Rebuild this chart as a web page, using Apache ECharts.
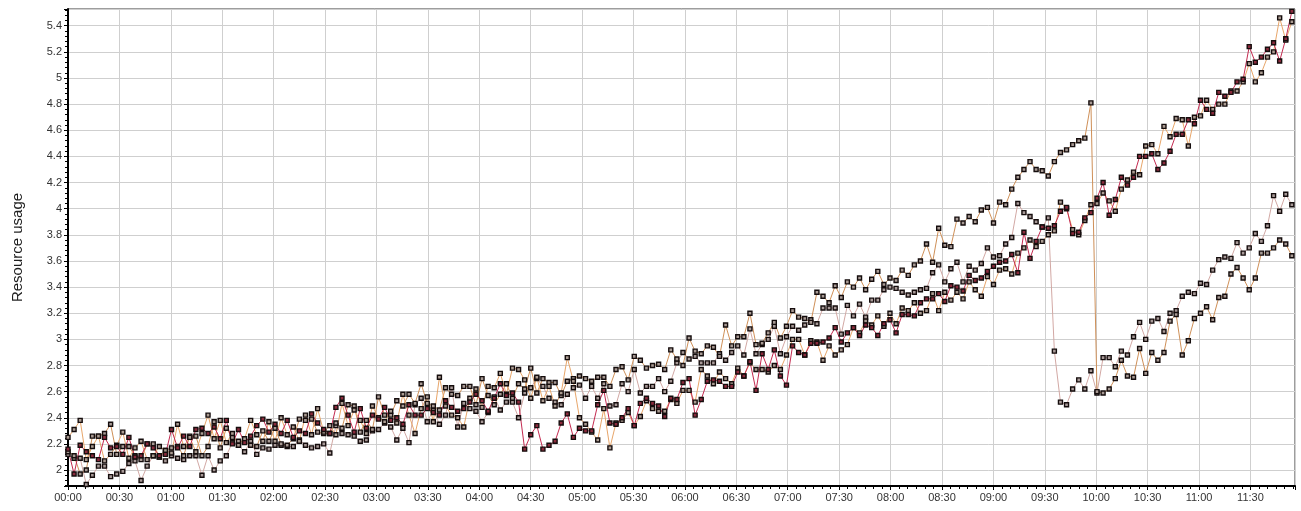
<!DOCTYPE html>
<html>
<head>
<meta charset="utf-8">
<script src="https://cdn.jsdelivr.net/npm/echarts@6/dist/echarts.min.js"></script>
<style>
  html, body { margin: 0; padding: 0; background: #fff; }
  #chart { width: 1301px; height: 511px; }
</style>
</head>
<body>
<div id="chart"></div>
<script>
// Samples are taken every 3.553 minutes, starting at 00:00.
const SAMPLE_STEP_MIN = 3.553;

// Axis ranges (minutes / usage units)
const X_MAX_MIN = 716;
const Y_MIN = 1.878;
const Y_MAX = 5.528;

// Resource usage per node (one value per sample)
const nodeA = [
  2.25, 2.31, 2.38, 2.08, 2.18, 2.26, 2.07, 2.12, 2.19, 2.29,
  2.09, 2.17, 2.22, 2.08, 2.11, 2.18, 2.15, 2.13, 2.35, 2.18,
  2.25, 2.14, 2.28, 2.42, 2.24, 2.38, 2.21, 2.28, 2.19, 2.24,
  2.38, 2.27, 2.22, 2.37, 2.22, 2.40, 2.27, 2.33, 2.22, 2.42,
  2.27, 2.47, 2.29, 2.34, 2.27, 2.51, 2.34, 2.46, 2.38, 2.28,
  2.49, 2.40, 2.37, 2.45, 2.36, 2.58, 2.42, 2.28, 2.47, 2.56,
  2.37, 2.71, 2.49, 2.42, 2.40, 2.33, 2.55, 2.62, 2.48, 2.64,
  2.63, 2.74, 2.58, 2.78, 2.77, 2.69, 2.55, 2.71, 2.53, 2.64,
  2.49, 2.59, 2.86, 2.68, 2.40, 2.35, 2.29, 2.23, 2.47, 2.17,
  2.36, 2.38, 2.44, 2.34, 2.41, 2.53, 2.47, 2.45, 2.45, 2.54,
  2.51, 2.61, 2.61, 2.52, 2.77, 2.72, 2.66, 2.75, 2.70, 2.66,
  2.78, 2.72, 2.82, 2.77, 2.77, 2.75, 2.80, 2.77, 2.88, 3.00,
  3.00, 2.88, 2.99, 2.98, 2.84, 2.95, 2.88, 2.92, 2.96, 3.09,
  3.05, 3.14, 3.11, 3.18, 3.10, 3.20, 3.12, 3.24, 3.22, 3.28,
  3.20, 3.22, 3.35, 3.22, 3.36, 3.30, 3.36, 3.31, 3.44, 3.38,
  3.33, 3.48, 3.42, 3.53, 3.54, 3.50, 3.66, 3.70, 3.76, 3.71,
  3.75, 3.80, 3.83, 4.05, 4.00, 3.84, 3.80, 3.91, 4.03, 4.04,
  4.12, 4.06, 3.98, 4.15, 4.22, 4.28, 4.26, 4.48, 4.49, 4.42,
  4.63, 4.55, 4.69, 4.68, 4.48, 4.70, 4.71, 4.83, 4.76, 4.80,
  4.80, 4.90, 4.90, 4.97, 5.11, 4.97, 5.04, 5.16, 5.20, 5.46,
  5.29, 5.43
];

const nodeB = [
  2.16, 1.97, 2.19, 2.14, 2.11, 2.08, 2.25, 2.17, 2.18, 2.12,
  2.25, 2.10, 2.11, 2.20, 2.17, 2.11, 2.12, 2.31, 2.17, 2.26,
  2.18, 2.31, 2.32, 2.28, 2.33, 2.24, 2.38, 2.20, 2.31, 2.21,
  2.26, 2.34, 2.39, 2.29, 2.35, 2.28, 2.38, 2.25, 2.30, 2.28,
  2.43, 2.36, 2.31, 2.28, 2.48, 2.55, 2.42, 2.29, 2.47, 2.32,
  2.42, 2.39, 2.48, 2.38, 2.40, 2.35, 2.50, 2.42, 2.42, 2.47,
  2.44, 2.42, 2.53, 2.48, 2.45, 2.47, 2.52, 2.58, 2.53, 2.45,
  2.55, 2.66, 2.57, 2.59, 2.52, 2.16, 2.27, 2.34, 2.16, 2.19,
  2.22, 2.36, 2.43, 2.25, 2.32, 2.30, 2.30, 2.50, 2.61, 2.36,
  2.35, 2.40, 2.47, 2.34, 2.51, 2.55, 2.51, 2.49, 2.41, 2.55,
  2.54, 2.67, 2.70, 2.42, 2.54, 2.68, 2.69, 2.68, 2.64, 2.64,
  2.75, 2.72, 2.83, 2.61, 2.89, 2.77, 2.92, 2.72, 2.65, 2.95,
  2.90, 2.88, 2.97, 2.97, 2.98, 3.01, 3.09, 2.98, 3.05, 3.09,
  3.03, 3.11, 3.09, 3.03, 3.12, 3.15, 3.05, 3.19, 3.19, 3.18,
  3.28, 3.31, 3.31, 3.35, 3.29, 3.41, 3.40, 3.37, 3.49, 3.45,
  3.47, 3.52, 3.56, 3.59, 3.60, 3.65, 3.51, 3.82, 3.62, 3.75,
  3.86, 3.85, 3.87, 3.98, 4.01, 3.81, 3.82, 3.93, 3.97, 4.08,
  4.20, 3.95, 4.07, 4.24, 4.18, 4.24, 4.40, 4.40, 4.42, 4.30,
  4.35, 4.44, 4.57, 4.57, 4.68, 4.65, 4.83, 4.76, 4.73, 4.89,
  4.86, 4.89, 4.97, 4.99, 5.24, 5.12, 5.16, 5.22, 5.27, 5.13,
  5.30, 5.51
];

const nodeC = [
  2.14, 2.11, 1.97, 2.00, 2.26, 2.26, 2.28, 2.35, 2.12, 2.18,
  2.18, 2.11, 2.08, 2.20, 2.20, 2.10, 2.15, 2.17, 2.18, 2.11,
  2.26, 2.26, 2.11, 2.18, 2.37, 2.17, 2.32, 2.25, 2.22, 2.22,
  2.19, 2.18, 2.30, 2.22, 2.32, 2.20, 2.19, 2.24, 2.39, 2.38,
  2.39, 2.29, 2.28, 2.28, 2.36, 2.32, 2.50, 2.49, 2.29, 2.38,
  2.31, 2.56, 2.42, 2.42, 2.53, 2.49, 2.58, 2.51, 2.66, 2.51,
  2.49, 2.46, 2.63, 2.58, 2.57, 2.64, 2.64, 2.50, 2.70, 2.57,
  2.50, 2.58, 2.66, 2.55, 2.66, 2.62, 2.78, 2.59, 2.70, 2.67,
  2.67, 2.57, 2.68, 2.70, 2.72, 2.70, 2.68, 2.71, 2.71, 2.64,
  2.77, 2.79, 2.69, 2.87, 2.84, 2.78, 2.80, 2.81, 2.77, 2.92,
  2.85, 2.80, 3.01, 2.91, 2.89, 2.95, 2.94, 2.87, 3.11, 2.95,
  3.02, 3.02, 3.20, 2.96, 2.97, 3.05, 3.13, 3.01, 3.10, 3.22,
  3.17, 3.16, 3.13, 3.36, 3.33, 3.28, 3.41, 3.32, 3.44, 3.40,
  3.47, 3.38, 3.46, 3.52, 3.42, 3.47, 3.45, 3.53, 3.49, 3.57,
  3.60, 3.73, 3.59, 3.85, 3.72, 3.71, 3.92, 3.89, 3.94, 3.90,
  3.99, 4.01, 3.89, 4.05, 4.03, 4.15, 4.24, 4.30, 4.36, 4.30,
  4.29, 4.25, 4.36, 4.43, 4.45, 4.49, 4.52, 4.54, 4.81, 2.60,
  2.59, 2.62, 2.70, 2.84, 2.72, 2.71, 2.93, 2.74, 2.90, 2.84,
  2.90, 3.14, 3.19, 2.88, 2.99, 3.16, 3.20, 3.25, 3.15, 3.32,
  3.33, 3.50, 3.55, 3.47, 3.38, 3.47, 3.66, 3.66, 3.70, 3.76,
  3.73, 3.64
];

const nodeD = [
  2.12, 2.09, 2.09, 1.89, 1.96, 2.03, 2.03, 1.95, 1.97, 1.99,
  2.05, 2.07, 1.92, 2.03, 2.11, 2.10, 2.07, 2.11, 2.09, 2.08,
  2.11, 2.11, 1.96, 2.11, 2.00, 2.07, 2.11, 2.21, 2.19, 2.14,
  2.22, 2.12, 2.17, 2.16, 2.19, 2.19, 2.18, 2.18, 2.23, 2.19,
  2.17, 2.18, 2.20, 2.13, 2.34, 2.28, 2.27, 2.26, 2.22, 2.23,
  2.30, 2.31, 2.36, 2.33, 2.23, 2.32, 2.21, 2.50, 2.55, 2.37,
  2.46, 2.35, 2.42, 2.63, 2.33, 2.51, 2.47, 2.45, 2.37, 2.44,
  2.56, 2.46, 2.52, 2.52, 2.40, 2.59, 2.63, 2.70, 2.64, 2.55,
  2.52, 2.50, 2.58, 2.63, 2.65, 2.55, 2.64, 2.55, 2.66, 2.49,
  2.50, 2.66, 2.60, 2.77, 2.59, 2.64, 2.64, 2.70, 2.60, 2.68,
  2.82, 2.90, 2.85, 2.87, 2.82, 2.82, 2.82, 2.89, 2.84, 2.90,
  2.95, 2.88, 3.08, 2.89, 2.96, 3.00, 3.10, 2.89, 3.02, 3.10,
  3.07, 3.11, 3.15, 3.12, 3.24, 3.24, 3.24, 3.04, 3.26, 3.18,
  3.27, 3.17, 3.30, 3.30, 3.38, 3.40, 3.39, 3.36, 3.34, 3.36,
  3.38, 3.39, 3.51, 3.57, 3.44, 3.54, 3.59, 3.44, 3.56, 3.53,
  3.58, 3.70, 3.63, 3.64, 3.73, 3.78, 4.04, 3.97, 3.94, 3.90,
  3.86, 3.93, 2.91, 2.52, 2.50, 2.62, 2.69, 2.62, 2.76, 2.59,
  2.86, 2.86, 2.79, 2.91, 2.88, 3.02, 3.13, 3.00, 3.14, 3.16,
  3.06, 3.20, 3.22, 3.33, 3.36, 3.35, 3.43, 3.42, 3.53, 3.61,
  3.63, 3.62, 3.74, 3.66, 3.70, 3.81, 3.75, 3.87, 4.10, 3.98,
  4.11, 4.03
];

function pad2(n) { return (n < 10 ? '0' : '') + n; }
function clockLabel(min) {
  const m = Math.round(min);
  return pad2(Math.floor(m / 60)) + ':' + pad2(m % 60);
}
function withTimes(values) {
  return values.map((v, i) => [i * SAMPLE_STEP_MIN, v]);
}

function nodeSeries(name, values, lineColor, fill) {
  return {
    name: name,
    type: 'line',
    data: withTimes(values),
    symbol: 'rect',
    symbolSize: 4,
    showSymbol: true,
    lineStyle: { color: lineColor, width: 1 },
    itemStyle: { color: fill, borderColor: '#150d0d', borderWidth: 1.4 },
    emphasis: { disabled: true },
    z: 3
  };
}

const chart = echarts.init(document.getElementById('chart'), null, { renderer: 'canvas' });
const FONT = 'Liberation Sans, Arial, sans-serif';

chart.setOption({
  animation: false,
  backgroundColor: '#ffffff',
  grid: {
    left: 68, right: 6, top: 9, bottom: 25,
    show: true, borderColor: '#3a3a3a', borderWidth: 1, backgroundColor: 'transparent'
  },
  xAxis: {
    type: 'value',
    min: 0,
    max: X_MAX_MIN,
    interval: 30,
    axisLine: { onZero: false, lineStyle: { color: '#000', width: 2 } },
    axisTick: { length: 4, lineStyle: { color: '#000', width: 1 } },
    minorTick: { show: true, splitNumber: 6, length: 3, lineStyle: { color: '#000', width: 1 } },
    axisLabel: {
      formatter: clockLabel, color: '#333', fontSize: 11, fontFamily: FONT,
      margin: 6, showMaxLabel: false, hideOverlap: false
    },
    splitLine: { show: true, lineStyle: { color: '#cfcfcf', width: 1 } },
    minorSplitLine: { show: false }
  },
  yAxis: {
    type: 'value',
    min: Y_MIN,
    max: Y_MAX,
    splitNumber: 18,
    name: 'Resource usage',
    nameLocation: 'middle',
    nameGap: 43,
    nameTextStyle: { color: '#1e1e1e', fontSize: 15, fontFamily: FONT },
    axisLine: { show: true, onZero: false, lineStyle: { color: '#000', width: 2 } },
    axisTick: { show: true, length: 4, lineStyle: { color: '#000', width: 1 } },
    minorTick: { show: true, splitNumber: 5, length: 3, lineStyle: { color: '#000', width: 1 } },
    axisLabel: {
      color: '#333', fontSize: 11, fontFamily: FONT, margin: 6,
      showMinLabel: false, showMaxLabel: false
    },
    splitLine: { show: true, lineStyle: { color: '#cfcfcf', width: 1 } }
  },
  series: [
    nodeSeries('node-d', nodeD, '#d2a8a4', '#a89a98'),
    nodeSeries('node-c', nodeC, '#cf9058', '#a89a94'),
    nodeSeries('node-a', nodeA, '#e8a66a', '#ab9c92'),
    nodeSeries('node-b', nodeB, '#c42a50', '#8a2a3c')
  ]
});
</script>
</body>
</html>
